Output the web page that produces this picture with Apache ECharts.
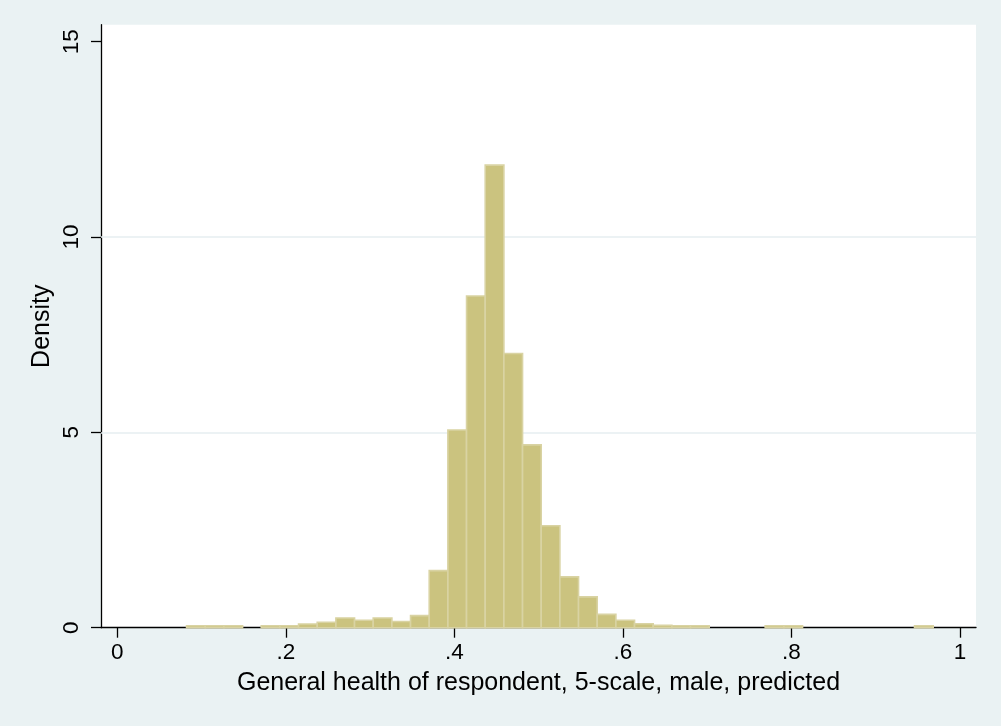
<!DOCTYPE html>
<html>
<head>
<meta charset="utf-8">
<script src="https://cdn.jsdelivr.net/npm/echarts@6/dist/echarts.min.js"></script>
<style>
html,body{margin:0;padding:0;background:#eaf2f3;}
#c{width:1001px;height:726px;}
</style>
</head>
<body>
<div id="c"></div>
<script>
// Histogram: 40 bins of equal width
const binStart = 0.0822;
const binWidth = 0.02215;
const density = [
  0.05, 0.05, 0.05, 0, 0.05, 0.05, 0.095, 0.14, 0.25, 0.19,
  0.25, 0.16, 0.31, 1.46, 5.06, 8.49, 11.84, 7.02, 4.68, 2.61,
  1.30, 0.79, 0.34, 0.19, 0.10, 0.06, 0.05, 0.05, 0, 0,
  0, 0.05, 0.05, 0, 0, 0, 0, 0, 0, 0.05
];
const xTicks = [0, 0.2, 0.4, 0.6, 0.8, 1];
const yTicks = [0, 5, 10, 15];
const gridValues = [5, 10];

const data = density.map((d, i) => [binStart + i * binWidth, binStart + (i + 1) * binWidth, d]);

const chart = echarts.init(document.getElementById('c'));
const FONT = 'Liberation Sans, Arial, sans-serif';
const fmtX = v => {
  if (Math.abs(v) < 1e-9) return '0';
  if (Math.abs(v - 1) < 1e-9) return '1';
  return String(Math.round(v * 10) / 10).replace(/^0/, '');
};

chart.setOption({
  backgroundColor: '#eaf2f3',
  animation: false,
  grid: { left: 101, top: 24.7, right: 25, bottom: 98.3, show: true, backgroundColor: '#ffffff', borderWidth: 0 },
  xAxis: {
    type: 'value',
    min: -0.01934,
    max: 1.019,
    name: 'General health of respondent, 5-scale, male, predicted',
    nameLocation: 'middle',
    nameGap: 42.5,
    nameMoveOverlap: false,
    nameTextStyle: { fontFamily: FONT, fontSize: 25, color: '#000' },
    axisLine: { show: true, onZero: false, lineStyle: { color: '#000', width: 1.3 } },
    axisTick: { show: true, length: 10, customValues: xTicks, lineStyle: { color: '#000', width: 1.3 } },
    axisLabel: { customValues: xTicks, formatter: fmtX, fontFamily: FONT, fontSize: 22.5, color: '#000', margin: 14 },
    splitLine: { show: false }
  },
  yAxis: {
    type: 'value',
    min: 0,
    max: 15.435,
    name: 'Density',
    nameLocation: 'middle',
    nameRotate: 90,
    nameGap: 46,
    nameMoveOverlap: false,
    nameTextStyle: { fontFamily: FONT, fontSize: 25, color: '#000' },
    axisLine: { show: true, onZero: false, lineStyle: { color: '#000', width: 1.3 } },
    axisTick: { show: true, length: 10, customValues: yTicks, lineStyle: { color: '#000', width: 1.3 } },
    axisLabel: { customValues: yTicks, rotate: 90, fontFamily: FONT, fontSize: 22.5, color: '#000', margin: 18 },
    splitLine: { show: false }
  },
  series: [{
    type: 'line',
    data: [],
    silent: true,
    z: 1,
    markLine: {
      silent: true,
      z: 1,
      symbol: 'none',
      label: { show: false },
      lineStyle: { color: '#e6eef0', type: 'solid', width: 1.6 },
      data: gridValues.map(v => ({ yAxis: v }))
    }
  }, {
    type: 'custom',
    data: data,
    encode: { x: [0, 1], y: 2 },
    z: 3,
    renderItem: function (params, api) {
      const h = api.value(2);
      if (!h) return null;
      const p0 = api.coord([api.value(0), 0]);
      const p1 = api.coord([api.value(1), h]);
      return {
        type: 'rect',
        shape: { x: p0[0], y: p1[1], width: p1[0] - p0[0], height: p0[1] - p1[1] },
        style: { fill: '#cbc37f', stroke: '#d9d3a3', lineWidth: 1.6 }
      };
    }
  }]
});
</script>
</body>
</html>
